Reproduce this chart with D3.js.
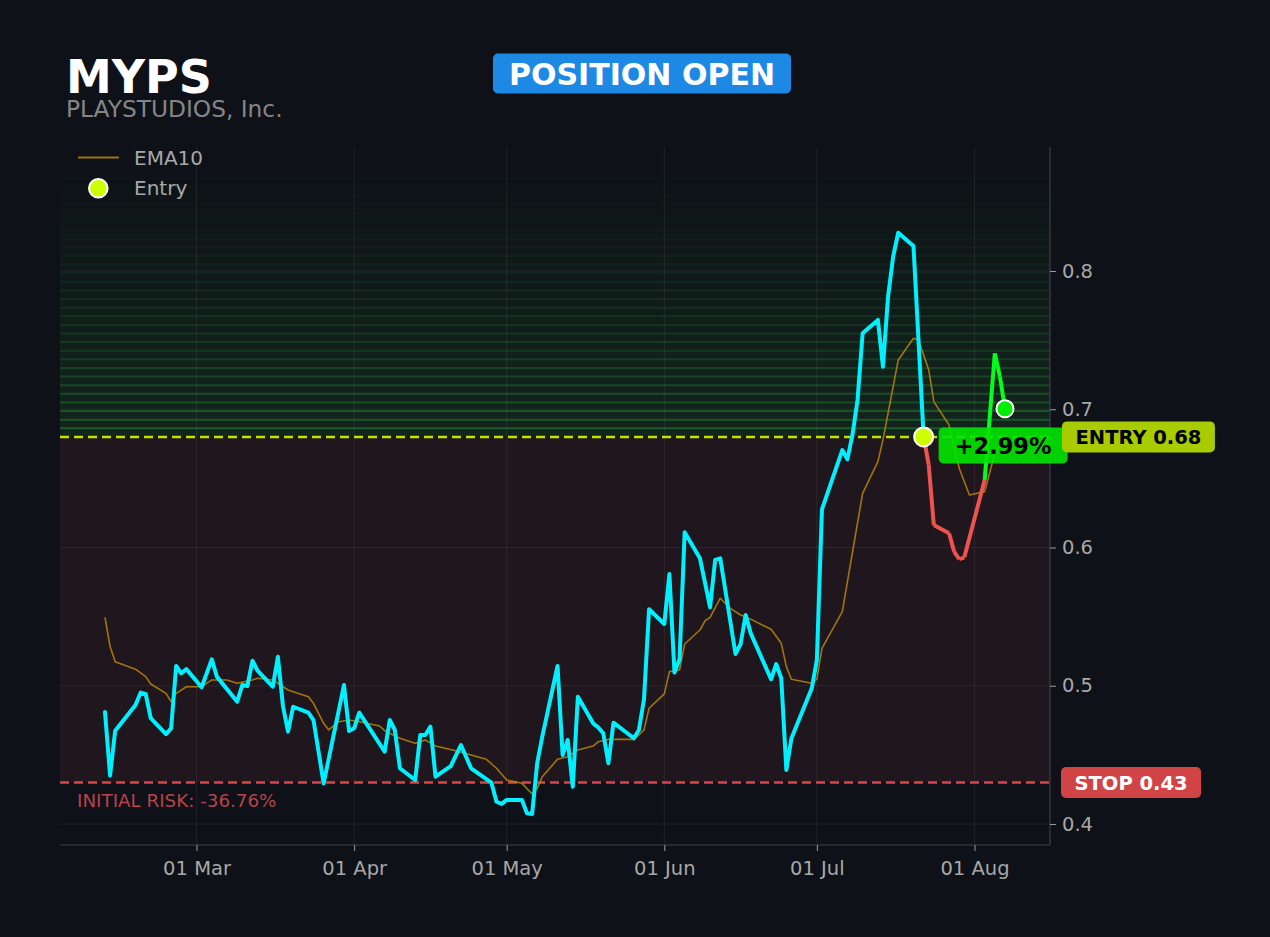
<!DOCTYPE html>
<html>
<head>
<meta charset="utf-8">
<script src="https://cdn.jsdelivr.net/npm/d3@7/dist/d3.min.js"></script>
<style>
  html, body { margin: 0; padding: 0; background: #0e1117; }
  svg { display: block; }
  text { font-family: "DejaVu Sans", sans-serif; }
</style>
</head>
<body>
<svg id="chart" width="1270" height="937"></svg>
<script>
// ---------------- DATA ----------------
const ticker = "MYPS";
const companyName = "PLAYSTUDIOS, Inc.";
const statusLabel = "POSITION OPEN";
const entryPrice = 0.68;
const stopPrice = 0.43;
const entryDate = "2024-07-22";
const pnlLabel = "+2.99%";
const bandTop = 0.867;
const yDomain = [0.3848, 0.8897];

const priceDates = [
  "2024-02-12","2024-02-13","2024-02-14","2024-02-18","2024-02-19","2024-02-20","2024-02-21",
  "2024-02-24","2024-02-25","2024-02-26","2024-02-27","2024-02-28","2024-03-02","2024-03-04",
  "2024-03-05","2024-03-09","2024-03-10","2024-03-11","2024-03-12","2024-03-13","2024-03-16",
  "2024-03-17","2024-03-18","2024-03-19","2024-03-20","2024-03-23","2024-03-24","2024-03-26",
  "2024-03-30","2024-03-31","2024-04-01","2024-04-02","2024-04-07","2024-04-08","2024-04-09",
  "2024-04-10","2024-04-13","2024-04-14","2024-04-15","2024-04-16","2024-04-17","2024-04-20",
  "2024-04-22","2024-04-24","2024-04-28","2024-04-29","2024-04-30","2024-05-01","2024-05-04",
  "2024-05-05","2024-05-06","2024-05-07","2024-05-08","2024-05-11","2024-05-12","2024-05-13",
  "2024-05-14","2024-05-15","2024-05-18","2024-05-19","2024-05-20","2024-05-21","2024-05-22",
  "2024-05-26","2024-05-27","2024-05-28","2024-05-29","2024-06-01","2024-06-02","2024-06-03",
  "2024-06-04","2024-06-05","2024-06-08","2024-06-10","2024-06-11","2024-06-12","2024-06-15",
  "2024-06-16","2024-06-17","2024-06-18","2024-06-22","2024-06-23","2024-06-24","2024-06-25",
  "2024-06-26","2024-06-30","2024-07-01","2024-07-02","2024-07-06","2024-07-07","2024-07-08",
  "2024-07-09","2024-07-10","2024-07-13","2024-07-14","2024-07-15","2024-07-16","2024-07-17",
  "2024-07-20","2024-07-22","2024-07-23","2024-07-24","2024-07-27","2024-07-28","2024-07-29",
  "2024-07-30","2024-08-03","2024-08-05","2024-08-06","2024-08-07"
];
const priceValues = [
  0.481,0.435,0.4675,0.486,0.495,0.494,0.4765,
  0.465,0.4692,0.5143,0.509,0.512,0.4989,0.5191,
  0.5066,0.4885,0.5005,0.4998,0.5181,0.5109,0.4993,
  0.521,0.4853,0.4668,0.4848,0.4805,0.4752,0.4294,
  0.5005,0.4673,0.4692,0.4805,0.4523,0.4752,0.468,
  0.4403,0.4318,0.4644,0.4644,0.4704,0.4342,0.4419,
  0.4571,0.4403,0.4299,0.4161,0.4145,0.4174,0.4174,
  0.4077,0.4072,0.444,0.4632,0.5143,0.4499,0.4608,
  0.427,0.4921,0.4728,0.4699,0.4656,0.444,0.4733,
  0.462,0.468,0.4902,0.5553,0.5447,0.5808,0.5095,
  0.5191,0.611,0.5922,0.5567,0.591,0.5922,0.523,
  0.5302,0.5512,0.5379,0.5047,0.5157,0.5054,0.4391,
  0.462,0.4981,0.5186,0.6276,0.6705,0.6638,0.6814,
  0.7067,0.7549,0.7646,0.7308,0.7814,0.8104,0.8277,
  0.8181,0.68,0.6597,0.6163,0.6103,0.597,0.5915,
  0.5929,0.6488,0.7404,0.7236,0.7003
];

const emaDates = [
  "2024-02-12","2024-02-13","2024-02-14","2024-02-18","2024-02-20","2024-02-21","2024-02-24",
  "2024-02-25","2024-02-26","2024-02-28","2024-03-02","2024-03-04","2024-03-07","2024-03-09",
  "2024-03-12","2024-03-13","2024-03-16","2024-03-19","2024-03-23","2024-03-24","2024-03-26",
  "2024-03-27","2024-03-29","2024-03-31","2024-04-02","2024-04-06","2024-04-07","2024-04-10",
  "2024-04-13","2024-04-15","2024-04-17","2024-04-21","2024-04-24","2024-04-27","2024-04-29",
  "2024-05-01","2024-05-04","2024-05-06","2024-05-07","2024-05-08","2024-05-11","2024-05-13",
  "2024-05-15","2024-05-18","2024-05-19","2024-05-21","2024-05-26","2024-05-27","2024-05-28",
  "2024-05-29","2024-06-01","2024-06-02","2024-06-04","2024-06-05","2024-06-08","2024-06-09",
  "2024-06-10","2024-06-12","2024-06-14","2024-06-16","2024-06-17","2024-06-22","2024-06-24",
  "2024-06-25","2024-06-26","2024-06-30","2024-07-01","2024-07-02","2024-07-06","2024-07-10",
  "2024-07-13","2024-07-14","2024-07-17","2024-07-20","2024-07-21","2024-07-23","2024-07-24",
  "2024-07-27","2024-07-29","2024-07-31","2024-08-03","2024-08-05","2024-08-07"
];
const emaValues = [
  0.5495,0.5283,0.5174,0.512,0.5066,0.5013,0.4945,
  0.4885,0.4945,0.4993,0.4993,0.5042,0.5042,0.5018,
  0.5042,0.5054,0.5042,0.4969,0.4921,0.4873,0.4728,
  0.468,0.474,0.4752,0.474,0.4709,0.4675,0.462,
  0.4584,0.4608,0.4564,0.453,0.4499,0.4468,0.4403,
  0.4318,0.4294,0.4217,0.4258,0.4342,0.4468,0.4487,
  0.4535,0.4564,0.4595,0.4612,0.4612,0.4644,0.468,
  0.4837,0.4941,0.5102,0.5114,0.5302,0.5403,0.547,
  0.5495,0.5633,0.556,0.5512,0.55,0.5408,0.5307,
  0.5138,0.5047,0.5018,0.5047,0.5271,0.5536,0.6392,
  0.6621,0.6778,0.7356,0.7513,0.75,0.7284,0.7055,
  0.6886,0.6573,0.638,0.6404,0.6682,0.68
];

const xTickDates = ["2024-03-01","2024-04-01","2024-05-01","2024-06-01","2024-07-01","2024-08-01"];
const yTickValues = [0.4, 0.5, 0.6, 0.7, 0.8];
const legendLabels = ["EMA10", "Entry"];

// ---------------- SETUP ----------------
const W = 1270, H = 937;
const plot = { left: 60, right: 1050, top: 147, bottom: 845 };
const parse = d3.timeParse("%Y-%m-%d");
const prices = priceDates.map((d, i) => ({ date: parse(d), v: priceValues[i] }));
const ema = emaDates.map((d, i) => ({ date: parse(d), v: emaValues[i] }));
const entryD = parse(entryDate);

const first = prices[0].date, last = prices[prices.length - 1].date;
const span = last - first;
const x = d3.scaleTime()
  .domain([new Date(+first - 0.05 * span), new Date(+last + 0.05 * span)])
  .range([plot.left, plot.right]);
const y = d3.scaleLinear().domain(yDomain).range([plot.bottom, plot.top]);

const svg = d3.select("#chart");
svg.append("rect").attr("width", W).attr("height", H).attr("fill", "#0e1117");

const gPlot = svg.append("g");

// green profit band (striped fade)
const N = 30;
const bh = (bandTop - entryPrice) / N;
d3.range(N).forEach(i => {
  const v0 = entryPrice + i * bh, v1 = entryPrice + (i + 1) * bh;
  const f = 1 - i / N;
  gPlot.append("rect")
    .attr("x", plot.left).attr("width", plot.right - plot.left)
    .attr("y", y(v1)).attr("height", y(v0) - y(v1))
    .attr("fill", "#2e9a3c").attr("opacity", 0.14 * f + 0.01);
  gPlot.append("line")
    .attr("x1", plot.left).attr("x2", plot.right)
    .attr("y1", y(v1)).attr("y2", y(v1))
    .attr("stroke", "#2e9a3c").attr("stroke-width", 2)
    .attr("opacity", 0.42 * f * f + 0.03);
});

// risk zone
gPlot.append("rect")
  .attr("x", plot.left).attr("width", plot.right - plot.left)
  .attr("y", y(entryPrice)).attr("height", y(stopPrice) - y(entryPrice))
  .attr("fill", "#20161d");

// grid
xTickDates.forEach(d => {
  gPlot.append("line").attr("x1", x(parse(d))).attr("x2", x(parse(d)))
    .attr("y1", plot.top).attr("y2", plot.bottom)
    .attr("stroke", "#ffffff").attr("stroke-opacity", 0.07).attr("stroke-width", 1);
});
yTickValues.forEach(v => {
  gPlot.append("line").attr("x1", plot.left).attr("x2", plot.right)
    .attr("y1", y(v)).attr("y2", y(v))
    .attr("stroke", "#ffffff").attr("stroke-opacity", 0.07).attr("stroke-width", 1);
});

// spines
svg.append("line").attr("x1", plot.right).attr("x2", plot.right)
  .attr("y1", plot.top).attr("y2", plot.bottom).attr("stroke", "#3d4047").attr("stroke-width", 1.2);
svg.append("line").attr("x1", plot.left).attr("x2", plot.right)
  .attr("y1", plot.bottom).attr("y2", plot.bottom).attr("stroke", "#3d4047").attr("stroke-width", 1.2);

// axes
const xAxis = d3.axisBottom(x).tickValues(xTickDates.map(parse))
  .tickFormat(d3.timeFormat("%d %b")).tickSize(6).tickPadding(10);
const gx = svg.append("g").attr("transform", `translate(0,${plot.bottom})`).call(xAxis);
gx.select(".domain").remove();
gx.selectAll(".tick line").attr("stroke", "#9a9a9a");
gx.selectAll(".tick text").attr("fill", "#a8a8a8").attr("font-size", 19.5)
  .attr("font-family", "DejaVu Sans");

const yAxis = d3.axisRight(y).tickValues(yTickValues).tickFormat(d3.format(".1f"))
  .tickSize(6).tickPadding(6);
const gy = svg.append("g").attr("transform", `translate(${plot.right},0)`).call(yAxis);
gy.select(".domain").remove();
gy.selectAll(".tick line").attr("stroke", "#9a9a9a");
gy.selectAll(".tick text").attr("fill", "#a8a8a8").attr("font-size", 19.5)
  .attr("font-family", "DejaVu Sans");

// entry & stop lines
gPlot.append("line").attr("x1", plot.left).attr("x2", plot.right)
  .attr("y1", y(entryPrice)).attr("y2", y(entryPrice))
  .attr("stroke", "#c6e000").attr("stroke-width", 2.5).attr("stroke-dasharray", "9,5");
gPlot.append("line").attr("x1", plot.left).attr("x2", plot.right)
  .attr("y1", y(stopPrice)).attr("y2", y(stopPrice))
  .attr("stroke", "#d9464a").attr("stroke-width", 2.5).attr("stroke-dasharray", "9,5");

// initial risk text
const riskPct = ((stopPrice / entryPrice - 1) * 100).toFixed(2);
svg.append("text").attr("x", 77).attr("y", y(stopPrice) + 24)
  .attr("fill", "#b9434b").attr("font-size", 18.3)
  .text(`INITIAL RISK: ${riskPct}%`);

// EMA line
const line = d3.line().x(d => x(d.date)).y(d => y(d.v));
gPlot.append("path").datum(ema).attr("d", line)
  .attr("fill", "none").attr("stroke", "#b8860b").attr("stroke-opacity", 0.85)
  .attr("stroke-width", 1.6).attr("stroke-linejoin", "round");

// price line
const entryIdx = prices.findIndex(p => +p.date === +entryD);
const pre = prices.slice(0, entryIdx + 1);
gPlot.append("path").datum(pre).attr("d", line)
  .attr("fill", "none").attr("stroke", "#00f0ff").attr("stroke-width", 4)
  .attr("stroke-linejoin", "round").attr("stroke-linecap", "round");
for (let i = entryIdx; i < prices.length - 1; i++) {
  const seg = [prices[i], prices[i + 1]];
  const col = prices[i + 1].v >= entryPrice ? "#00ff1a" : "#ef5350";
  gPlot.append("path").datum(seg).attr("d", line)
    .attr("fill", "none").attr("stroke", col).attr("stroke-width", 4)
    .attr("stroke-linecap", "butt");
}

// markers
const lastP = prices[prices.length - 1];
svg.append("circle").attr("cx", x(entryD)).attr("cy", y(entryPrice)).attr("r", 9.5)
  .attr("fill", "#ccff00").attr("stroke", "#ffffff").attr("stroke-width", 2);
svg.append("circle").attr("cx", x(lastP.date)).attr("cy", y(lastP.v)).attr("r", 8.5)
  .attr("fill", "#00ee00").attr("stroke", "#ffffff").attr("stroke-width", 2);

// label helper
function badge(cx, cy, textStr, fs, fill, txtFill, padX, h, anchorLeft, op) {
  const g = svg.append("g");
  const rect = g.append("rect").attr("fill", fill).attr("rx", 5).attr("opacity", op || 1);
  const t = g.append("text").attr("font-size", fs).attr("font-weight", "bold")
    .attr("fill", txtFill).attr("dominant-baseline", "central").text(textStr);
  const w = t.node().getComputedTextLength();
  const left = anchorLeft ? cx : cx - w / 2 - padX;
  t.attr("x", left + padX).attr("y", cy + 1);
  rect.attr("x", left).attr("y", cy - h / 2).attr("width", w + 2 * padX).attr("height", h);
  return g;
}

// PnL label
badge(x(entryD) + 15, y(entryPrice) + 8.5, pnlLabel, 22.5, "#00e600", "#000000", 16, 36, true, 0.9);
// entry / stop labels
badge(plot.right + 12, y(entryPrice), `ENTRY ${entryPrice.toFixed(2)}`, 19.5, "#a8cc00", "#000000", 13.5, 31, true);
badge(plot.right + 11, y(stopPrice), `STOP ${stopPrice.toFixed(2)}`, 19.5, "#d04446", "#ffffff", 13.5, 31, true);

// title
svg.append("text").attr("x", 66).attr("y", 93).attr("font-size", 46)
  .attr("font-weight", "bold").attr("fill", "#ffffff").text(ticker);
svg.append("text").attr("x", 66).attr("y", 116.5).attr("font-size", 23.3)
  .attr("fill", "#858585").text(companyName);

// status badge
badge(642, 73.5, statusLabel, 30, "#1e88e5", "#ffffff", 16, 40, false);

// legend
svg.append("line").attr("x1", 78).attr("x2", 119).attr("y1", 157.5).attr("y2", 157.5)
  .attr("stroke", "#b8860b").attr("stroke-opacity", 0.85).attr("stroke-width", 2.2);
svg.append("text").attr("x", 134).attr("y", 165).attr("font-size", 20)
  .attr("fill", "#a8a8a8").text(legendLabels[0]);
svg.append("circle").attr("cx", 98.3).attr("cy", 188.3).attr("r", 9.3)
  .attr("fill", "#ccff00").attr("stroke", "#ffffff").attr("stroke-width", 2);
svg.append("text").attr("x", 134).attr("y", 194.5).attr("font-size", 20)
  .attr("fill", "#a8a8a8").text(legendLabels[1]);
</script>
</body>
</html>
